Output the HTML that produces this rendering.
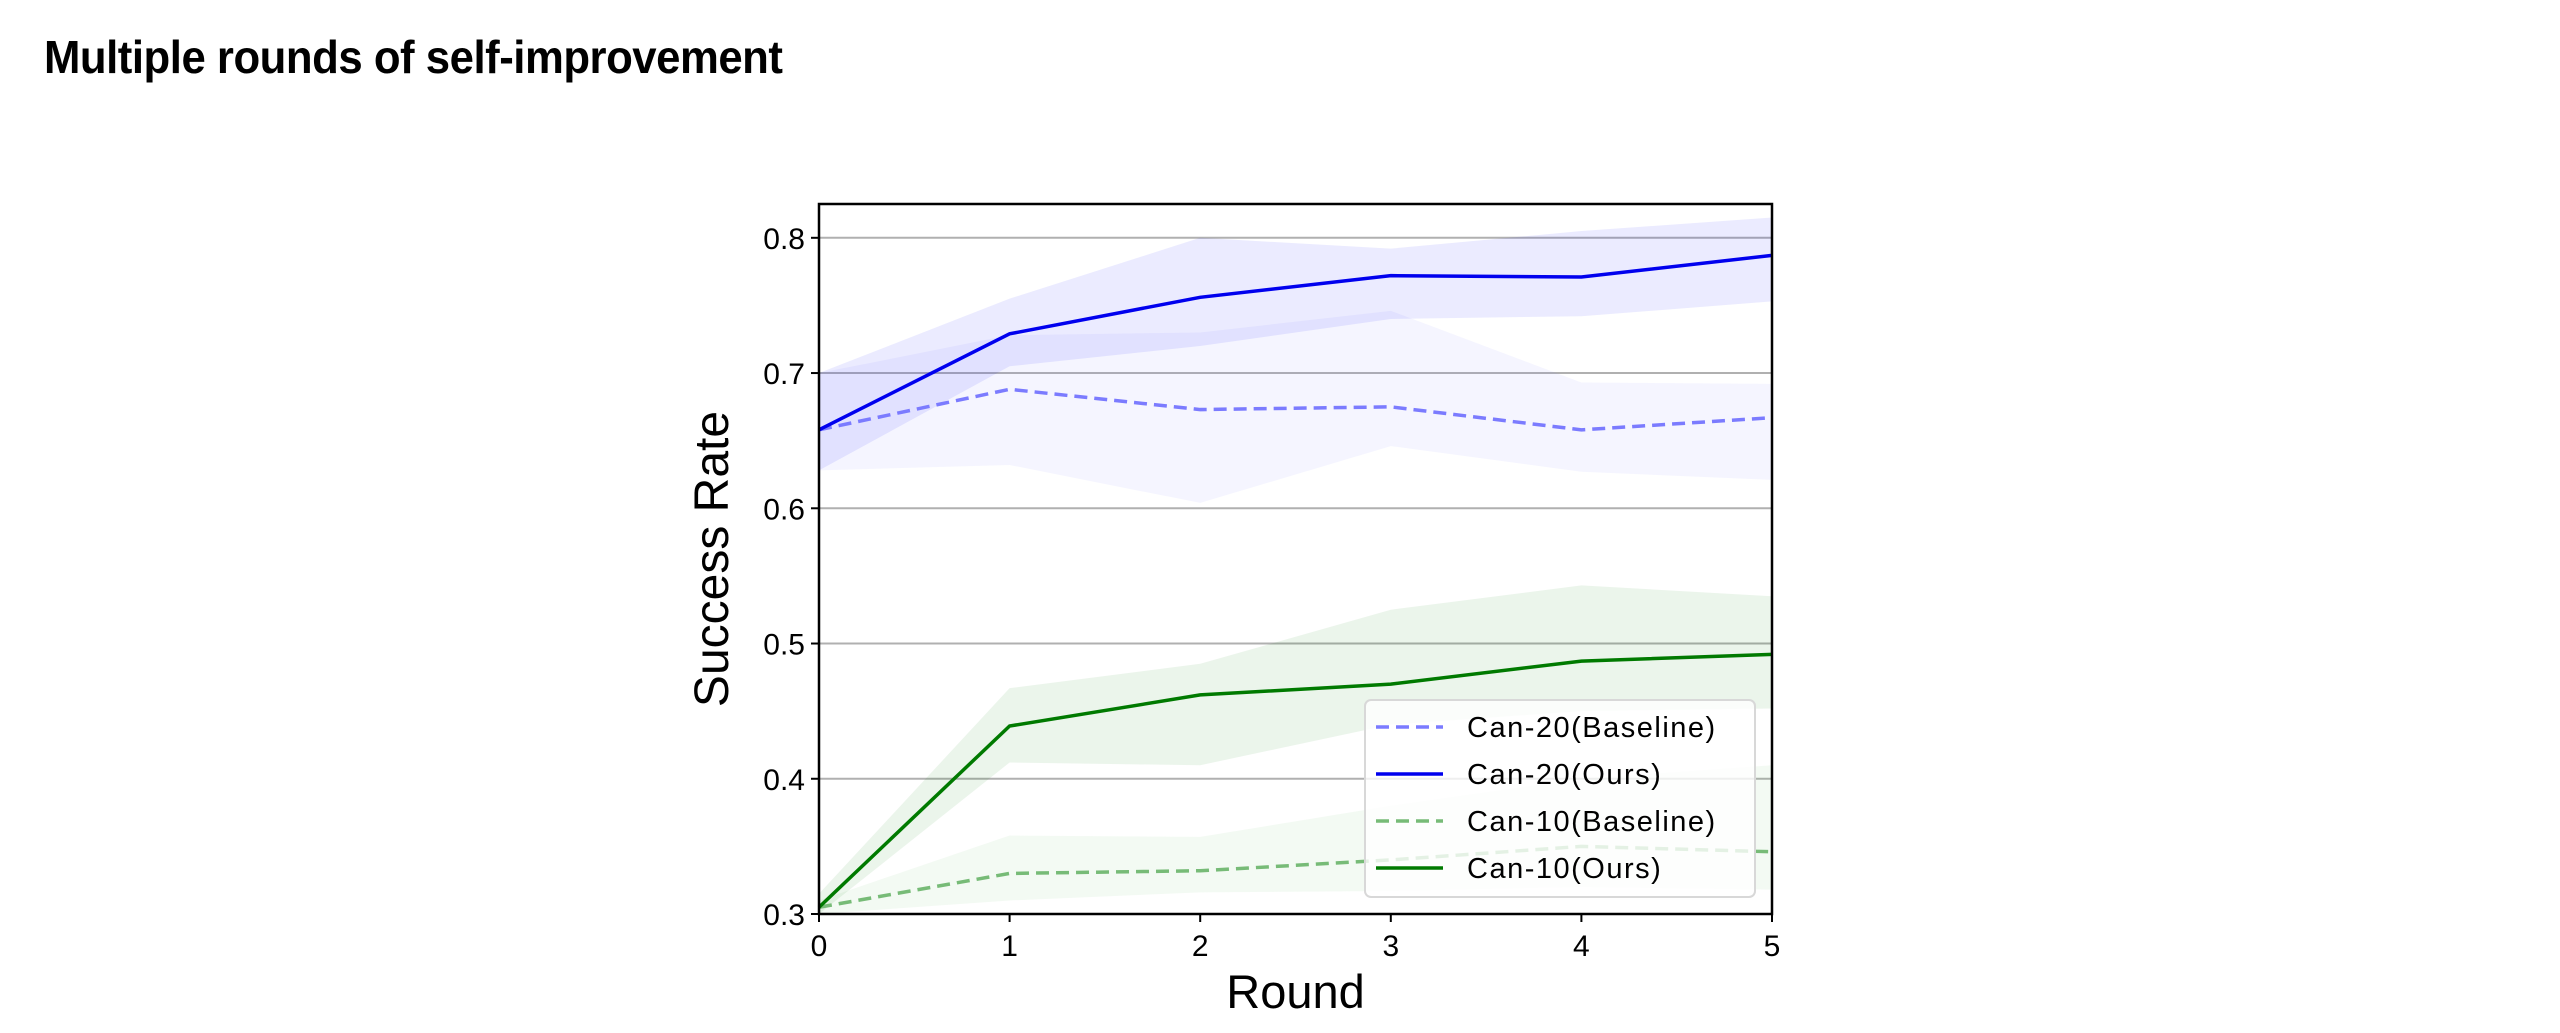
<!DOCTYPE html>
<html><head><meta charset="utf-8"><style>
html,body{margin:0;padding:0;background:#fff;width:2560px;height:1033px;overflow:hidden}
#title{position:absolute;left:44px;top:30px;font-family:"Liberation Sans",sans-serif;font-weight:bold;font-size:46px;letter-spacing:-0.5px;transform:scaleX(0.95);transform-origin:left top;white-space:nowrap}
svg{position:absolute;left:0;top:0}
text{font-family:"Liberation Sans",sans-serif}
</style></head><body>
<div id="title">Multiple rounds of self-improvement</div>
<svg id="chart" width="2560" height="1033"></svg>
<script>
const rounds=[0,1,2,3,4,5];
const c20Ours=[0.658,0.729,0.756,0.772,0.771,0.787];
const c20OursHi=[0.700,0.755,0.800,0.792,0.805,0.815];
const c20OursLo=[0.628,0.705,0.720,0.740,0.742,0.753];
const c20Base=[0.658,0.688,0.673,0.675,0.658,0.667];
const c20BaseHi=[0.700,0.728,0.730,0.746,0.693,0.692];
const c20BaseLo=[0.628,0.632,0.604,0.646,0.627,0.621];
const c10Ours=[0.305,0.439,0.462,0.470,0.487,0.492];
const c10OursHi=[0.315,0.467,0.485,0.525,0.543,0.535];
const c10OursLo=[0.300,0.412,0.410,0.440,0.450,0.452];
const c10Base=[0.305,0.330,0.332,0.340,0.350,0.346];
const c10BaseHi=[0.310,0.358,0.357,0.380,0.400,0.410];
const c10BaseLo=[0.300,0.310,0.316,0.317,0.320,0.318];
const yTicks=[0.3,0.4,0.5,0.6,0.7,0.8];
const xTicks=[0,1,2,3,4,5];

const L=819,R=1772,T=204,B=914,yMin=0.3,yMax=0.825;
const X=v=>L+(v-0)/(5-0)*(R-L);
const Y=v=>B-(v-yMin)/(yMax-yMin)*(B-T);
const svg=document.getElementById('chart');
const NS='http://www.w3.org/2000/svg';
function mk(tag,attrs,parent){const e=document.createElementNS(NS,tag);for(const k in attrs)e.setAttribute(k,attrs[k]);(parent||svg).appendChild(e);return e;}

yTicks.forEach(t=>{
  const g=mk('line',{x1:L,x2:R,y1:Y(t),y2:Y(t),stroke:'#b0b0b0','stroke-width':2});
  
  
});
function band(lo,hi,fill,op,name){
  let d='M'+rounds.map((r,i)=>X(r)+','+Y(hi[i])).join('L');
  d+='L'+rounds.slice().reverse().map((r,j)=>{const i=rounds.length-1-j;return X(r)+','+Y(lo[i]);}).join('L')+'Z';
  const p=mk('path',{d:d,fill:fill,'fill-opacity':op});
  
  
}
function line(vals,color,dash,name){
  const p=mk('polyline',{points:rounds.map((r,i)=>X(r)+','+Y(vals[i])).join(' '),fill:'none',stroke:color,'stroke-width':3.5,'stroke-dasharray':dash||'none'});
  
  
}
band(c20BaseLo,c20BaseHi,'#7a7aff',0.08,'can20-baseline-band');
band(c20OursLo,c20OursHi,'#0000ff',0.08,'can20-ours-band');
band(c10BaseLo,c10BaseHi,'#66bb66',0.08,'can10-baseline-band');
band(c10OursLo,c10OursHi,'#008000',0.08,'can10-ours-band');
line(c20Base,'#7b7bff','13,7','can20-baseline-line');
line(c20Ours,'#0000ee','','can20-ours-line');
line(c10Base,'#77bb77','13,7','can10-baseline-line');
line(c10Ours,'#007a00','','can10-ours-line');

const fr=mk('rect',{x:L,y:T,width:R-L,height:B-T,fill:'none',stroke:'#000','stroke-width':2.5});


yTicks.forEach(t=>{
  mk('line',{x1:L-8,x2:L,y1:Y(t),y2:Y(t),stroke:'#000','stroke-width':2});
  const tx=mk('text',{x:L-14,y:Y(t)+11,'text-anchor':'end','font-size':30});
  tx.textContent=t.toFixed(1);
  
  
});
xTicks.forEach(t=>{
  mk('line',{x1:X(t),x2:X(t),y1:B,y2:B+8,stroke:'#000','stroke-width':2});
  const tx=mk('text',{x:X(t),y:B+42,'text-anchor':'middle','font-size':30});
  tx.textContent=t;
  
  
});
const xl=mk('text',{x:(L+R)/2,y:1008,'text-anchor':'middle','font-size':47});
xl.textContent='Round';


const yl=mk('text',{x:0,y:0,'text-anchor':'middle','font-size':48,transform:'translate(728,'+((T+B)/2)+') rotate(-90)'});
yl.textContent='Success Rate';



const lg=mk('g',{});


mk('rect',{x:1365,y:700,width:390,height:197,rx:6,fill:'#fff','fill-opacity':0.8,stroke:'#d8d8d8','stroke-width':2},lg);
const names=['Can-20(Baseline)','Can-20(Ours)','Can-10(Baseline)','Can-10(Ours)'];
const cols=['#7b7bff','#0000ee','#77bb77','#007a00'];
const dashes=['13,7','','13,7',''];
names.forEach((n,i)=>{
  const y=727+i*47;
  const it=mk('g',{},lg);
  
  
  mk('line',{x1:1376,x2:1443,y1:y,y2:y,stroke:cols[i],'stroke-width':3.5,'stroke-dasharray':dashes[i]||'none'},it);
  const t=mk('text',{x:1467,y:y+10,'font-size':29,'letter-spacing':1.5},it);
  t.textContent=n;
});
</script>
</body></html>
